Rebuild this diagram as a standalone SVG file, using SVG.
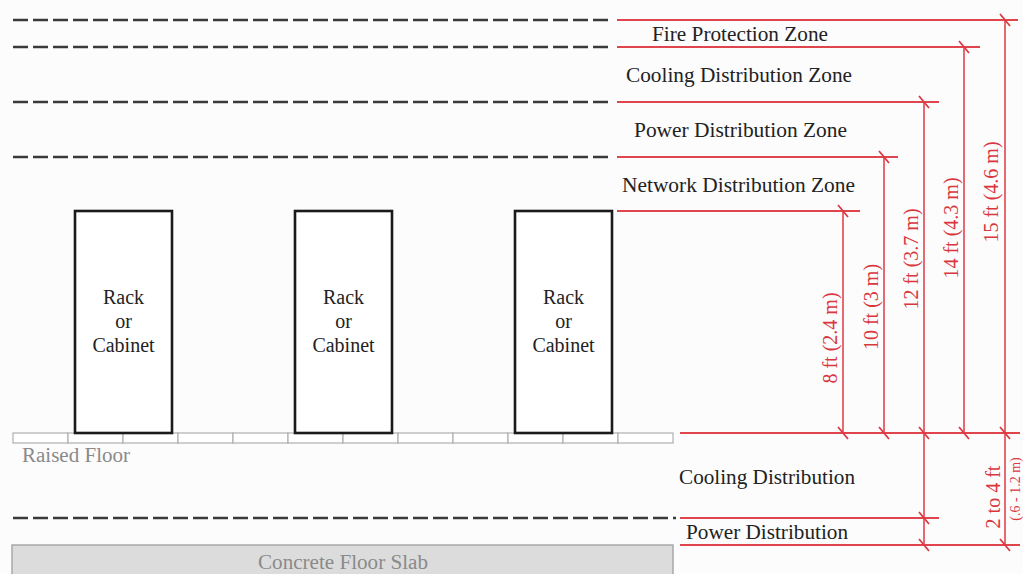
<svg xmlns="http://www.w3.org/2000/svg" width="1023" height="574" viewBox="0 0 1023 574">
<style>
.dash{stroke:#3a3a3a;stroke-width:2.6;stroke-dasharray:15 5;fill:none}
.red{stroke:#e0454d;stroke-width:2;fill:none}
.redv{stroke:#e0454d;stroke-width:1.6;fill:none}
.tick{stroke:#d93a42;stroke-width:1.8;fill:none}
.rack{fill:#fff;stroke:#1a1a1a;stroke-width:2.6}
.tile{fill:#fff;stroke:#b0b0b0;stroke-width:1.2}
.lbl{font-family:"Liberation Serif","Times New Roman",serif;font-size:20px;fill:#222}
.rk{font-family:"Liberation Serif","Times New Roman",serif;font-size:20px;fill:#222;text-anchor:middle}
.dim{font-family:"Liberation Serif","Times New Roman",serif;font-size:20px;fill:#d9363e;text-anchor:middle}
.gray{font-family:"Liberation Serif","Times New Roman",serif;font-size:20px;fill:#8a8a8a}
</style>
<defs>
<path id="tk" d="M-5,-6 L5,6" class="tick"/>
</defs>
<rect x="0" y="0" width="1023" height="574" fill="#fcfcfc"/>

<g id="zone-lines">
<line class="dash" x1="13" y1="20" x2="612" y2="20"/>
<line class="dash" x1="13" y1="47" x2="612" y2="47"/>
<line class="dash" x1="13" y1="102" x2="612" y2="102"/>
<line class="dash" x1="13" y1="157" x2="612" y2="157"/>
<line class="dash" x1="13" y1="518" x2="676" y2="518"/>
</g>

<g id="raised-floor">
<rect class="tile" x="13" y="433" width="55" height="10"/>
<rect class="tile" x="68" y="433" width="55" height="10"/>
<rect class="tile" x="123" y="433" width="55" height="10"/>
<rect class="tile" x="178" y="433" width="55" height="10"/>
<rect class="tile" x="233" y="433" width="55" height="10"/>
<rect class="tile" x="288" y="433" width="55" height="10"/>
<rect class="tile" x="343" y="433" width="55" height="10"/>
<rect class="tile" x="398" y="433" width="55" height="10"/>
<rect class="tile" x="453" y="433" width="55" height="10"/>
<rect class="tile" x="508" y="433" width="55" height="10"/>
<rect class="tile" x="563" y="433" width="55" height="10"/>
<rect class="tile" x="618" y="433" width="55" height="10"/>
<text class="gray" x="22" y="462" textLength="108" lengthAdjust="spacingAndGlyphs">Raised Floor</text>
</g>

<g id="slab">
<rect x="12" y="545" width="661" height="32" fill="#dcdcdc" stroke="#a8a8a8" stroke-width="1.5"/>
<text class="gray" x="258" y="569" textLength="170" lengthAdjust="spacingAndGlyphs">Concrete Floor Slab</text>
</g>

<g id="rack1">
<rect class="rack" x="75" y="211" width="97" height="222"/>
<text class="rk" x="123.5" y="304">Rack</text>
<text class="rk" x="123.5" y="328">or</text>
<text class="rk" x="123.5" y="352">Cabinet</text>
</g>
<g id="rack2">
<rect class="rack" x="295" y="211" width="97" height="222"/>
<text class="rk" x="343.5" y="304">Rack</text>
<text class="rk" x="343.5" y="328">or</text>
<text class="rk" x="343.5" y="352">Cabinet</text>
</g>
<g id="rack3">
<rect class="rack" x="515" y="211" width="97" height="222"/>
<text class="rk" x="563.5" y="304">Rack</text>
<text class="rk" x="563.5" y="328">or</text>
<text class="rk" x="563.5" y="352">Cabinet</text>
</g>

<g id="zone-labels">
<text class="lbl" x="652" y="41" textLength="176" lengthAdjust="spacingAndGlyphs">Fire Protection Zone</text>
<text class="lbl" x="626" y="82" textLength="226" lengthAdjust="spacingAndGlyphs">Cooling Distribution Zone</text>
<text class="lbl" x="634" y="137" textLength="213" lengthAdjust="spacingAndGlyphs">Power Distribution Zone</text>
<text class="lbl" x="622" y="192" textLength="233" lengthAdjust="spacingAndGlyphs">Network Distribution Zone</text>
<text class="lbl" x="679" y="484" textLength="176" lengthAdjust="spacingAndGlyphs">Cooling Distribution</text>
<text class="lbl" x="686" y="539" textLength="162" lengthAdjust="spacingAndGlyphs">Power Distribution</text>
</g>

<g id="connectors">
<line class="red" x1="617" y1="20" x2="1018" y2="20"/>
<line class="red" x1="617" y1="47" x2="980" y2="47"/>
<line class="red" x1="617" y1="102" x2="939" y2="102"/>
<line class="red" x1="617" y1="157" x2="898" y2="157"/>
<line class="red" x1="617" y1="211" x2="860" y2="211"/>
<line class="red" x1="680" y1="433" x2="1020" y2="433"/>
<line class="red" x1="680" y1="518" x2="939" y2="518"/>
<line class="red" x1="680" y1="545" x2="1020" y2="545"/>
<line class="redv" x1="843" y1="211" x2="843" y2="433"/>
<line class="redv" x1="884" y1="157" x2="884" y2="433"/>
<line class="redv" x1="924" y1="102" x2="924" y2="545"/>
<line class="redv" x1="964" y1="47" x2="964" y2="433"/>
<line class="redv" x1="1005" y1="20" x2="1005" y2="545"/>
<use href="#tk" x="1005" y="20"/>
<use href="#tk" x="964" y="47"/>
<use href="#tk" x="924" y="102"/>
<use href="#tk" x="884" y="157"/>
<use href="#tk" x="843" y="211"/>
<use href="#tk" x="843" y="433"/>
<use href="#tk" x="884" y="433"/>
<use href="#tk" x="924" y="433"/>
<use href="#tk" x="964" y="433"/>
<use href="#tk" x="1005" y="433"/>
<use href="#tk" x="924" y="518"/>
<use href="#tk" x="924" y="545"/>
<use href="#tk" x="1005" y="545"/>
</g>

<g id="dimension-labels">
<text class="dim" transform="translate(837,338) rotate(-90)">8 ft (2.4 m)</text>
<text class="dim" transform="translate(878,307) rotate(-90)">10 ft (3 m)</text>
<text class="dim" transform="translate(918,259) rotate(-90)">12 ft (3.7 m)</text>
<text class="dim" transform="translate(958,228) rotate(-90)">14 ft (4.3 m)</text>
<text class="dim" transform="translate(998,192) rotate(-90)">15 ft (4.6 m)</text>
<text class="dim" transform="translate(1000,497) rotate(-90)">2 to 4 ft</text>
<text class="dim" style="font-size:14px" transform="translate(1020,489) rotate(-90)">(.6 - 1.2 m)</text>
</g>
</svg>
